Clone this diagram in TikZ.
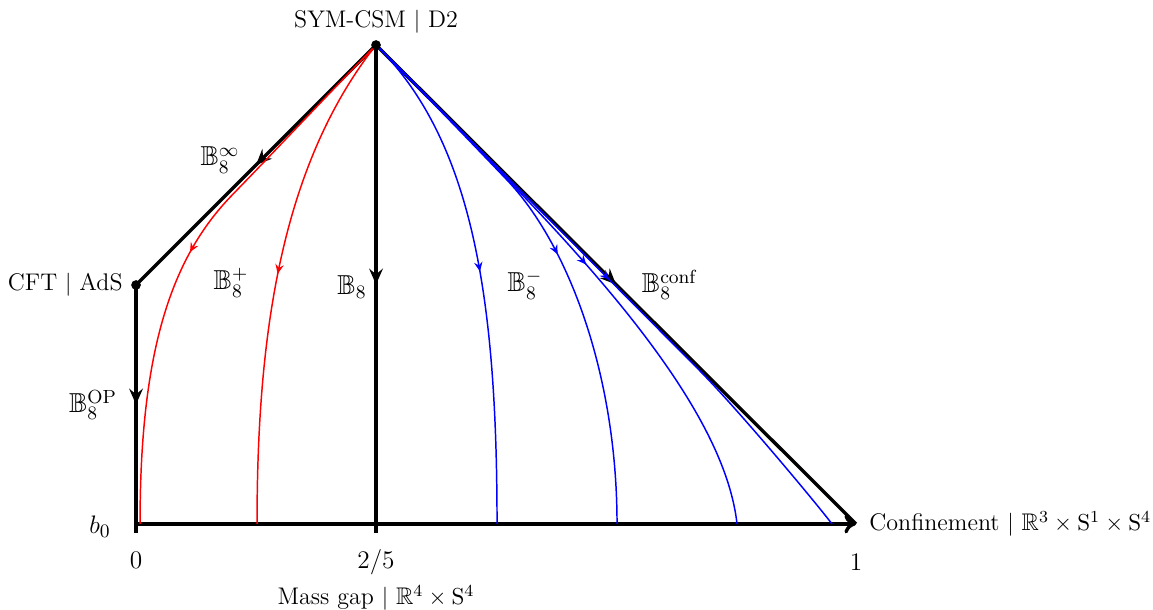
\documentclass[tikz,border=0pt]{standalone}
\usepackage{amsmath,amssymb}
\usetikzlibrary{arrows.meta,decorations.markings}
\tikzset{
  bound/.style={line width=1.6pt, black},
  midflow/.style={postaction={decorate},
              decoration={markings, mark=at position 0.5 with {\arrow{#1}}}},
  bigarrow/.style={midflow={Stealth[length=7.5pt,width=6.5pt,inset=2.7pt]}},
  redflow/.style={red, line width=0.7pt, midflow={Stealth[length=4.5pt,width=4pt,inset=1.6pt]}},
  blueflow/.style={blue, line width=0.7pt, midflow={Stealth[length=4.5pt,width=4pt,inset=1.6pt]}},
  fixpt/.style={circle, fill=black, inner sep=0pt, minimum size=4.6pt},
  phase/.style={font=\fontsize{11.4}{13}\selectfont},
  flowname/.style={font=\fontsize{13}{15}\selectfont},
}

\begin{document}
\begin{tikzpicture}
        \useasboundingbox (-2.267,-1.433) rectangle (16.95,8.733);
        % fixed points and ends of the axis
        \coordinate (sym) at (4,7.983);
        \coordinate (cft) at (0,3.983);
        \coordinate (orig) at (0,0);
        \coordinate (gap) at (4,0);
        \coordinate (conf) at (12,0);
        % where the coloured flows land
        \coordinate (r1) at (0.067,0);
        \coordinate (r2) at (2.017,0);
        \coordinate (b1) at (6.017,0);
        \coordinate (b2) at (8.017,0);
        \coordinate (b3) at (10.017,0);
        \coordinate (b4) at (11.6,0);

        \draw[bound,-{To[length=5.5pt,width=9pt]}] (orig) -- (conf);
        \draw[bound] (orig) -- ++(0,-0.15);
        \draw[bound] (gap) -- ++(0,-0.15);
        \draw[bound,bigarrow] (sym) -- (cft);
        \draw[bound,bigarrow] (cft) -- (orig);
        \draw[bound,bigarrow] (sym) -- (gap);
        \draw[bound,bigarrow] (sym) -- (conf);

        \draw[redflow] (sym) .. controls (3,6.95) and (2.3,6.2) .. (1.6,5.48)
                .. controls (0.55,4.4) and (0.067,2.8) .. (r1);
        \draw[redflow] (sym) .. controls (2.4,5.95) and (2.017,3.1) .. (r2);
        \draw[blueflow] (sym) .. controls (5.6,6.4) and (6.017,3.8) .. (b1);
        \draw[blueflow] (sym) .. controls (4.8,7.17) and (5.5,6.45) .. (6.183,5.733)
                .. controls (7.2,4.66) and (8.017,2.5) .. (b2);
        \draw[blueflow] (sym) .. controls (5,7) and (5.8,6.16) .. (6.567,5.35)
                .. controls (8.485,3.325) and (9.85,1.5) .. (b3);
        \draw[blueflow] (sym) -- (9.4,2.55)
                .. controls (10.1,1.835) and (11.39,0.28) .. (b4);

        \node[fixpt] (symdot) at (sym) {};
        \node[fixpt] (cftdot) at (cft) {};

        \node[phase] (symlbl) at (4,8.367) {SYM-CSM $|$ D2};
        \node[phase,anchor=east] (cftlbl) at (-0.1,3.983) {CFT $|$ AdS};
        \node[phase] (gaplbl) at (4,-1.233) {Mass gap $|$ $\mathbb{R}^4\times\mathrm{S}^4$};
        \node[phase,anchor=west] (conflbl) at (12.1,0) {Confinement $|$ $\mathbb{R}^3\times\mathrm{S}^1\times\mathrm{S}^4$};

        \node[flowname] (binf) at (1.4,6.067) {$\mathbb{B}_8^{\infty}$};
        \node[flowname] (bplus) at (1.583,4.017) {$\mathbb{B}_8^{+}$};
        \node[flowname] (bzero) at (3.6,3.95) {$\mathbb{B}_8$};
        \node[flowname] (bminus) at (6.483,3.983) {$\mathbb{B}_8^{-}$};
        \node[flowname] (bconf) at (8.9,3.983) {$\mathbb{B}_8^{\mathrm{conf}}$};
        \node[flowname] (bop) at (-0.717,1.983) {$\mathbb{B}_8^{\mathrm{OP}}$};
        \node[flowname] (bnought) at (-0.6,-0.05) {$b_0$};
        \node[flowname] (tick0) at (0,-0.6) {$0$};
        \node[flowname] (tick25) at (4,-0.633) {$2/5$};
        \node[flowname] (tick1) at (12,-0.633) {$1$};
      \end{tikzpicture}
\end{document}
